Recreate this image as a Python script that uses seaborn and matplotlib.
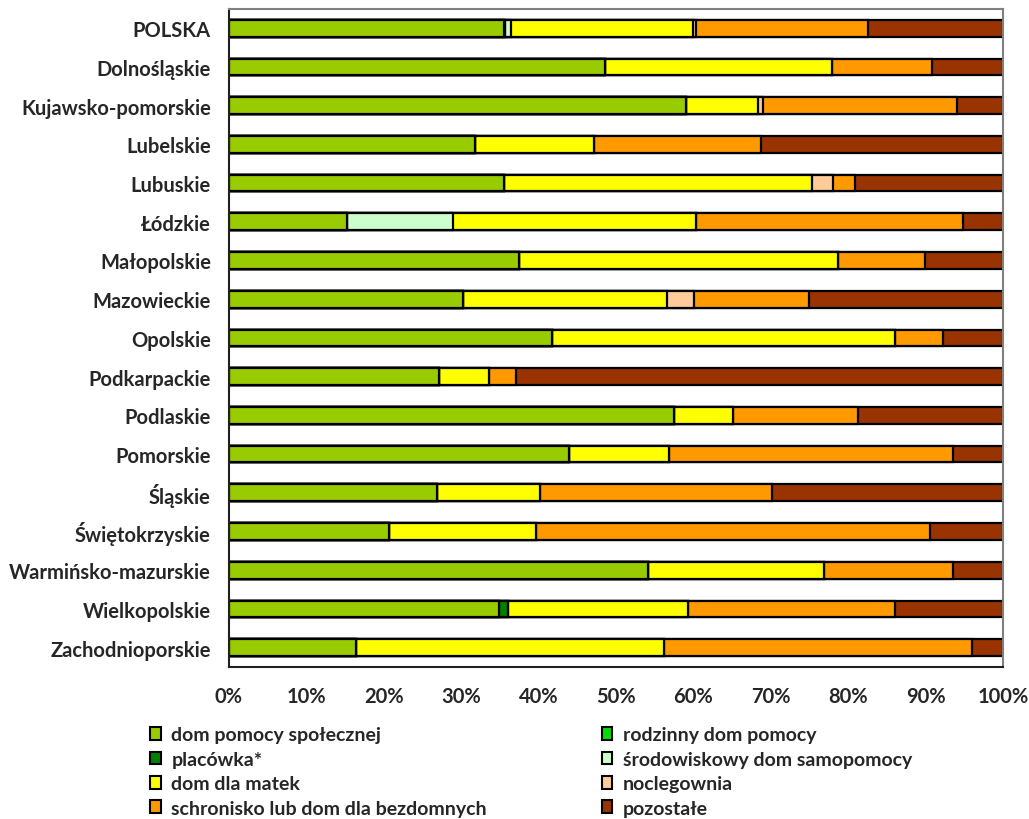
import numpy as np
import pandas as pd
import matplotlib
matplotlib.use("Agg")
import matplotlib.pyplot as plt
from matplotlib.patches import Patch
from matplotlib.ticker import FixedLocator, PercentFormatter
import seaborn as sns

regions = ['POLSKA', 'Dolnośląskie', 'Kujawsko-pomorskie', 'Lubelskie', 'Lubuskie',
           'Łódzkie', 'Małopolskie', 'Mazowieckie', 'Opolskie', 'Podkarpackie',
           'Podlaskie', 'Pomorskie', 'Śląskie', 'Świętokrzyskie',
           'Warmińsko-mazurskie', 'Wielkopolskie', 'Zachodnioporskie']

# shares in % per region
dom_pomocy   = [35.5, 48.6, 59.0, 31.8, 35.5, 15.3, 37.5, 30.3, 41.7, 27.1, 57.5, 43.9, 26.9, 20.7, 54.1, 34.9, 16.4]
rodzinny     = [0.1, 0, 0, 0, 0, 0, 0, 0, 0, 0, 0, 0, 0, 0, 0, 0, 0]
placowka     = [0.1, 0, 0, 0, 0, 0, 0, 0, 0, 0, 0, 0, 0, 0, 0, 1.1, 0]
srodowiskowy = [0.7, 0, 0, 0, 0, 13.6, 0, 0, 0, 0, 0, 0, 0, 0, 0, 0, 0]
dom_matek    = [23.5, 29.3, 9.4, 15.4, 39.8, 31.4, 41.2, 26.3, 44.3, 6.5, 7.6, 12.9, 13.3, 19.0, 22.8, 23.3, 39.8]
noclegownia  = [0.5, 0, 0.6, 0, 2.8, 0, 0, 3.5, 0, 0, 0, 0, 0, 0, 0, 0, 0]
schronisko   = [22.1, 12.9, 25.1, 21.5, 2.8, 34.6, 11.2, 14.9, 6.2, 3.5, 16.2, 36.7, 30.0, 50.9, 16.6, 26.7, 39.8]
pozostale    = [17.5, 9.2, 5.9, 31.3, 19.1, 5.1, 10.1, 25.0, 7.8, 62.9, 18.7, 6.5, 29.8, 9.4, 6.5, 14.0, 4.0]

series = ['dom pomocy społecznej', 'rodzinny dom pomocy', 'placówka*',
          'środowiskowy dom samopomocy', 'dom dla matek', 'noclegownia',
          'schronisko lub dom dla bezdomnych', 'pozostałe']
colors = ['#99CC00', '#00E000', '#008000', '#CCFFCC', '#FFFF00', '#FFCC99', '#FF9900', '#993300']

df = pd.DataFrame({'region': regions})
values = [dom_pomocy, rodzinny, placowka, srodowiskowy, dom_matek, noclegownia, schronisko, pozostale]
for name, vals in zip(series, values):
    df[name] = vals

# cumulative totals -> draw from the longest down so earlier segments sit on top
cum = df[series].cumsum(axis=1)

sns.set_style("white")
plt.rcParams['font.family'] = ['Lato', 'DejaVu Sans']
plt.rcParams['font.weight'] = 'bold'

fig = plt.figure(figsize=(10.29, 8.2), dpi=100)
ax = fig.add_axes([0.2225, 0.1854, 0.7522, 0.8026])

for name, col in reversed(list(zip(series, colors))):
    sns.barplot(x=cum[name], y=df['region'], color=col, saturation=1, orient='h',
                edgecolor='black', linewidth=1.6, width=0.43,
                errorbar=None, ax=ax)

ax.set_xlim(0, 100)
ax.set_ylim(len(regions) - 0.5, -0.5)
ax.set_xlabel('')
ax.set_ylabel('')

ax.xaxis.set_major_locator(FixedLocator(np.arange(0, 101, 10)))
ax.xaxis.set_major_formatter(PercentFormatter(decimals=0))
ax.tick_params(axis='x', direction='out', length=5, width=1, color='#404040',
               labelsize=14.5, pad=9)
ax.tick_params(axis='y', which='major', length=0, labelsize=14.5, pad=13)
ax.yaxis.set_minor_locator(FixedLocator(np.arange(-0.5, len(regions), 1)))
ax.tick_params(axis='y', which='minor', direction='out', length=6, width=1, color='black')
for lbl in ax.get_xticklabels() + ax.get_yticklabels():
    lbl.set_fontweight('bold')

for side in ['top', 'right']:
    ax.spines[side].set_color('#808080')
    ax.spines[side].set_linewidth(1.5)
for side in ['left', 'bottom']:
    ax.spines[side].set_color('#202020')
    ax.spines[side].set_linewidth(1.5)

# legend: two columns, first column left, second column right
handles = [Patch(facecolor=c, edgecolor='black', linewidth=1.5) for c in colors]
leg_kw = dict(loc='upper left', frameon=False, prop={'size': 14, 'weight': 'bold'},
              handlelength=0.55, handleheight=0.65, handletextpad=0.55, labelspacing=0.38,
              borderaxespad=0, borderpad=0.3)
left_idx = [0, 2, 4, 6]
right_idx = [1, 3, 5, 7]
fig.legend([handles[i] for i in left_idx], [series[i] for i in left_idx],
           bbox_to_anchor=(0.140, 0.1200), **leg_kw)
fig.legend([handles[i] for i in right_idx], [series[i] for i in right_idx],
           bbox_to_anchor=(0.579, 0.1200), **leg_kw)

fig.savefig('out.png', dpi=100)
